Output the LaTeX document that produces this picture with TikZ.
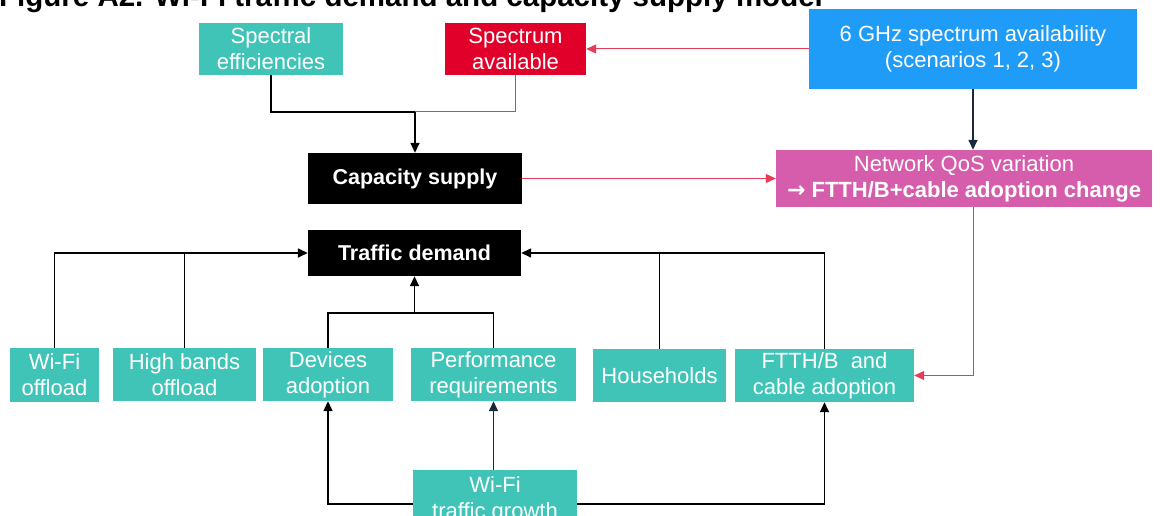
\documentclass[tikz,border=0pt]{standalone}
\usepackage{fontspec}
\setmainfont{Liberation Sans}
\newfontfamily\arrfont{DejaVu Sans}
\usetikzlibrary{arrows.meta,calc}
\definecolor{teal1}{RGB}{64,196,184}
\definecolor{red1}{RGB}{225,0,42}
\definecolor{blue1}{RGB}{30,156,248}
\definecolor{mag1}{RGB}{214,92,172}
\definecolor{redline}{RGB}{230,60,90}
\definecolor{navy1}{RGB}{25,40,60}
\tikzset{
  box/.style={rectangle, inner sep=0pt, align=center, text=white,
    font=\fontsize{22}{26}\selectfont},
  tealbox/.style={box, fill=teal1},
  blkbox/.style={box, fill=black, font=\fontsize{21.5}{26}\selectfont\bfseries},
  blk/.style={draw=black, line width=1.5pt},
  rln/.style={draw=redline, line width=1pt},
  tip/.style={-{Triangle[length=10pt,width=9pt]}},
}
\begin{document}
\begin{tikzpicture}[x=1pt,y=-1pt]
\clip (0,0) rectangle (1160,516);
\useasboundingbox (0,0) rectangle (1160,516);
\fill[white] (0,0) rectangle (1160,516);
\node[anchor=base west, inner sep=0pt, font=\fontsize{29.5}{32}\selectfont\bfseries] (title) at (-1,7) {Figure A2. Wi-Fi traffic demand and capacity supply model};
% nodes
\node[tealbox, minimum width=144pt, minimum height=52pt] (spec) at (271,49) {Spectral\\efficiencies};
\node[box, fill=red1, minimum width=141pt, minimum height=52pt] (avail) at (515.5,49) {Spectrum\\available};
\node[box, fill=blue1, minimum width=328pt, minimum height=80pt] (ghz) at (973,49) {6 GHz spectrum availability\\(scenarios 1, 2, 3)};
\node[blkbox, minimum width=214pt, minimum height=51pt] (cap) at (415,178.5) {Capacity supply};
\node[box, fill=mag1, minimum width=376pt, minimum height=57pt] (qos) at (964,178.5) {Network QoS variation\\{\arrfont\bfseries →} {\bfseries FTTH/B+cable adoption change}};
\node[blkbox, minimum width=213pt, minimum height=46pt] (td) at (414.5,253) {Traffic demand};
\node[tealbox, minimum width=89pt, minimum height=54pt] (wifi) at (54.5,375) {Wi-Fi\\offload};
\node[tealbox, minimum width=143pt, minimum height=53pt] (high) at (184.5,374.5) {High bands\\offload};
\node[tealbox, minimum width=130pt, minimum height=53pt] (dev) at (328,374.5) {Devices\\adoption};
\node[tealbox, minimum width=165pt, minimum height=53pt] (perf) at (493.5,374.5) {Performance\\requirements};
\node[tealbox, minimum width=133pt, minimum height=53pt] (hh) at (659.5,375.5) {Households};
\node[tealbox, minimum width=179pt, minimum height=53pt] (ftth) at (824.5,375.5) {FTTH/B~ and\\cable adoption};
\node[tealbox, minimum width=164pt, minimum height=60pt] (growth) at (495,500) {Wi-Fi\\traffic growth};
% junction coordinates
\coordinate (j1) at (415,112);
\coordinate (j2) at (414.5,313);
% top connectors
\draw[rln] (avail.south) |- (j1);
\draw[blk] (spec.south) |- (j1);
\draw[blk, tip] (j1) -- (cap.north);
\draw[rln, tip] (ghz.west) -- (avail.east);
\draw[draw=navy1, line width=1.5pt, tip] (ghz.south) -- (ghz.south |- qos.north);
\draw[rln, tip] (cap.east) -- (qos.west);
\draw[rln, tip] (ghz.south |- qos.south) |- (ftth.east);
% demand side
\draw[blk, tip] (wifi.north) |- (td.west);
\draw[blk] (high.north) -- (high.north |- td.west);
\draw[blk, tip] (ftth.north) |- (td.east);
\draw[blk] (hh.north) -- (hh.north |- td.east);
\draw[blk] (dev.north) |- (j2) -| (perf.north);
\draw[blk, tip] (j2) -- (td.south);
% growth
\draw[draw=navy1, line width=1.5pt, tip] (growth.north -| perf.south) -- (perf.south);
\draw[blk, tip] ([yshift=-4pt]growth.west) -| (dev.south);
\draw[blk, tip] ([yshift=-4pt]growth.east) -| (ftth.south);
\end{tikzpicture}
\end{document}
